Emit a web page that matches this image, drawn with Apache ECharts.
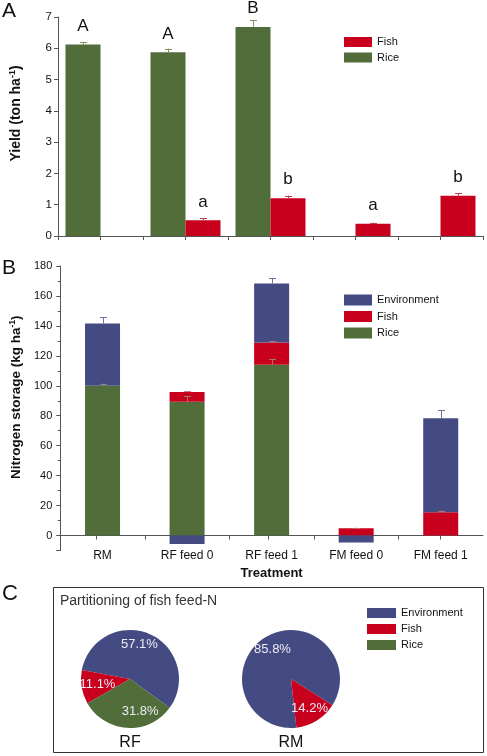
<!DOCTYPE html>
<html><head><meta charset="utf-8">
<script src="https://cdn.jsdelivr.net/npm/echarts@6/dist/echarts.min.js"></script>
<style>html,body{margin:0;padding:0;background:#fff}#c{width:487px;height:756px}</style>
</head><body><div id="c"></div>
<script>
const categories = ['RM', 'RF feed 0', 'RF feed 1', 'FM feed 0', 'FM feed 1'];
// Panel A: yield (ton ha-1)
const yieldRice = [6.12, 5.87, 6.68, null, null];
const yieldFish = [null, 0.50, 1.21, 0.39, 1.29];
const yieldRiceErr = [0.09, 0.12, 0.21, null, null];
const yieldFishErr = [null, 0.07, 0.08, 0.04, 0.07];
const riceLetters = ['A', 'A', 'B', '', ''];
const fishLetters = ['', 'a', 'b', 'a', 'b'];
// Panel B: nitrogen storage (kg ha-1)
const nRice = [100.0, 89.3, 114.0, null, null];
const nFish = [null, 6.5, 14.9, 4.9, 15.6];
const nEnv = [41.6, -5.6, 39.4, -4.7, 62.8];
const nRiceErr = [1.5, 4.0, 3.8, null, null];
const nFishErr = [null, 0.7, 0.9, 0.4, 1.1];
const nEnvErr = [4.3, null, 3.7, null, 5.4];
// Panel C: partitioning of fish feed-N (%)
const pieNames = ['Environment', 'Fish', 'Rice'];
const pieRF = [57.1, 11.1, 31.8];
const pieRM = [85.8, 14.2];

const COL = { Rice: '#516d3a', Fish: '#c8001e', Environment: '#444b83' };
const AXC = '#555';
const TXT = '#111';
const FONT = 'Liberation Sans, Arial, sans-serif';

function errSeries(xi, yi, bases, errs, offset, color) {
  const data = [];
  bases.forEach((b, i) => { if (b != null && errs[i] != null) data.push([i, b, b + errs[i]]); });
  return {
    type: 'custom', xAxisIndex: xi, yAxisIndex: yi, z: 6, silent: true, data: data,
    encode: { x: 0, y: 1 },
    renderItem: function (params, api) {
      const lo = api.coord([api.value(0), api.value(1)]);
      const hi = api.coord([api.value(0), api.value(2)]);
      const x = Math.round(lo[0] + offset) + 0.5;
      return { type: 'group', children: [
        { type: 'line', shape: { x1: x, y1: lo[1], x2: x, y2: hi[1] }, style: { stroke: color, lineWidth: 1 } },
        { type: 'line', shape: { x1: x - 3.5, y1: Math.round(hi[1]) + 0.5, x2: x + 3.5, y2: Math.round(hi[1]) + 0.5 }, style: { stroke: color, lineWidth: 1 } }
      ] };
    }
  };
}

const riceTop = nRice.map(v => v);
const fishTop = nFish.map((v, i) => v == null ? null : (nRice[i] || 0) + v);
const envTop = nEnv.map((v, i) => v == null || v < 0 ? null : (nRice[i] || 0) + (nFish[i] || 0) + v);

const axisLine = { show: true, onZero: false, lineStyle: { color: AXC, width: 1 } };
const tick = (len) => ({ show: true, length: len, lineStyle: { color: AXC, width: 1 } });
const ZERO_OFFSET = -15; // B: move the category axis up from the grid bottom (-10) to the zero line

const chart = echarts.init(document.getElementById('c'), null, { renderer: 'canvas' });
chart.setOption({
  animation: false,
  backgroundColor: '#fff',
  textStyle: { fontFamily: FONT },
  grid: [
    { left: 53, top: 17, width: 430, height: 219 },
    { left: 53, top: 266, width: 430, height: 284.5 },
    { left: 53, top: 266, width: 430, height: 284.5 }
  ],
  xAxis: [
    { type: 'category', gridIndex: 0, data: categories, position: 'bottom', axisLine: axisLine, axisTick: tick(4), axisLabel: { show: false }, splitLine: { show: false } },
    { type: 'category', gridIndex: 0, data: categories, position: 'bottom', axisLine: { show: false, onZero: false }, axisTick: Object.assign(tick(4), { alignWithLabel: true }), axisLabel: { show: false }, splitLine: { show: false } },
    { type: 'category', gridIndex: 1, data: categories, position: 'bottom', offset: ZERO_OFFSET, axisLine: axisLine, axisTick: tick(4),
      axisLabel: { show: true, fontSize: 12, color: TXT, margin: 14, fontFamily: FONT },
      name: 'Treatment', nameLocation: 'middle', nameGap: 31, nameTextStyle: { fontSize: 13, fontWeight: 'bold', color: TXT, fontFamily: FONT },
      splitLine: { show: false } },
    { type: 'category', gridIndex: 2, data: categories, position: 'bottom', offset: ZERO_OFFSET, axisLine: { show: false, onZero: false }, axisTick: Object.assign(tick(4), { alignWithLabel: true }), axisLabel: { show: false }, splitLine: { show: false } }
  ],
  yAxis: [
    { type: 'value', gridIndex: 0, min: 0, max: 7, interval: 1, axisLine: axisLine, axisTick: tick(4), splitLine: { show: false },
      axisLabel: { fontSize: 11.5, color: TXT, margin: 6, fontFamily: FONT },
      name: '{t|Yield (ton ha}{s|-1}{t|)}', nameLocation: 'middle', nameGap: 34,
      nameTextStyle: { padding: [0, 0, 0, 26], rich: { t: { fontSize: 14, fontWeight: 'bold', color: TXT, fontFamily: FONT }, s: { fontSize: 9, fontWeight: 'bold', color: TXT, fontFamily: FONT, padding: [0, 0, 7, 0] } } } },
    { type: 'value', gridIndex: 1, min: -10, max: 180, splitNumber: 9, minInterval: 20, maxInterval: 20, axisLine: axisLine, axisTick: tick(4),
      minorTick: { show: true, splitNumber: 2, length: 2.5, lineStyle: { color: AXC } }, splitLine: { show: false }, minorSplitLine: { show: false },
      axisLabel: { fontSize: 11, color: TXT, margin: 8, fontFamily: FONT, formatter: v => v < 0 ? '' : String(v) },
      name: '{t|Nitrogen storage (kg ha}{s|-1}{t|)}', nameLocation: 'middle', nameGap: 36,
      nameTextStyle: { padding: [0, 0, 0, 22], rich: { t: { fontSize: 13.5, fontWeight: 'bold', color: TXT, fontFamily: FONT }, s: { fontSize: 8.5, fontWeight: 'bold', color: TXT, fontFamily: FONT, padding: [0, 0, 7, 0] } } } },
    { type: 'value', gridIndex: 2, min: -10, max: 180, show: false, splitLine: { show: false } }
  ],
  legend: [
    { data: ['Fish', 'Rice'], left: 344, top: 36, orient: 'vertical', icon: 'rect', itemWidth: 28, itemHeight: 10, itemGap: 3.5, padding: 0, selectedMode: false,
      textStyle: { fontSize: 11, color: TXT, lineHeight: 12, fontFamily: FONT } },
    { data: ['Environment', 'Fish', 'Rice'], left: 344, top: 294, orient: 'vertical', icon: 'rect', itemWidth: 28, itemHeight: 11, itemGap: 4.5, padding: 0, selectedMode: false,
      textStyle: { fontSize: 11, color: TXT, lineHeight: 12, fontFamily: FONT } },
    { data: ['Environment', 'Fish', 'Rice'], left: 367, top: 607, orient: 'vertical', icon: 'rect', itemWidth: 29, itemHeight: 10, itemGap: 4, padding: 0, selectedMode: false,
      textStyle: { fontSize: 11, color: TXT, lineHeight: 12, fontFamily: FONT } }
  ],
  graphic: [
    { type: 'text', left: 2, top: 1, style: { text: 'A', font: '21px ' + FONT, fill: TXT } },
    { type: 'text', left: 2, top: 258, style: { text: 'B', font: '21px ' + FONT, fill: TXT } },
    { type: 'text', left: 2, top: 583, style: { text: 'C', font: '22px ' + FONT, fill: TXT } },
    { type: 'rect', shape: { x: 53.5, y: 587.5, width: 430, height: 165 }, style: { fill: 'none', stroke: '#333', lineWidth: 1 }, z: 0 },
    { type: 'text', left: 60, top: 594, style: { text: 'Partitioning of fish feed-N', font: '14px ' + FONT, fill: '#333' } },
    { type: 'text', x: 130, y: 743, style: { text: 'RF', font: '16px ' + FONT, fill: TXT, align: 'center', verticalAlign: 'middle', textAlign: 'center', textVerticalAlign: 'middle' } },
    { type: 'text', x: 291, y: 743, style: { text: 'RM', font: '16px ' + FONT, fill: TXT, align: 'center', verticalAlign: 'middle', textAlign: 'center', textVerticalAlign: 'middle' } }
  ],
  series: [
    { name: 'Rice', type: 'bar', xAxisIndex: 0, yAxisIndex: 0, barWidth: 35, barGap: '0%',
      data: yieldRice.map((v, i) => ({ value: v, label: { formatter: riceLetters[i] } })),
      itemStyle: { color: COL.Rice }, label: { show: true, position: 'top', distance: 10, fontSize: 17, color: TXT, fontFamily: FONT } },
    { name: 'Fish', type: 'bar', xAxisIndex: 0, yAxisIndex: 0, barWidth: 35, barGap: '0%',
      data: yieldFish.map((v, i) => ({ value: v, label: { formatter: fishLetters[i] } })),
      itemStyle: { color: COL.Fish }, label: { show: true, position: 'top', distance: 10, fontSize: 17, color: TXT, fontFamily: FONT } },
    errSeries(0, 0, yieldRice, yieldRiceErr, -17.5, '#8c8c62'),
    errSeries(0, 0, yieldFish, yieldFishErr, 17.5, '#b84050'),

    { name: 'Rice', type: 'bar', xAxisIndex: 2, yAxisIndex: 1, stack: 'n', barWidth: 35, data: nRice, itemStyle: { color: COL.Rice } },
    { name: 'Fish', type: 'bar', xAxisIndex: 2, yAxisIndex: 1, stack: 'n', barWidth: 35, data: nFish, itemStyle: { color: COL.Fish } },
    { name: 'Environment', type: 'bar', xAxisIndex: 2, yAxisIndex: 1, stack: 'n', barWidth: 35, data: nEnv, itemStyle: { color: COL.Environment } },
    errSeries(2, 1, riceTop, nRiceErr, 0, 'rgba(150,150,120,0.8)'),
    errSeries(2, 1, fishTop, nFishErr, 0, 'rgba(200,110,120,0.9)'),
    errSeries(2, 1, envTop, nEnvErr, 0, '#7070a0'),

    { type: 'pie', center: [130, 679], radius: 49, startAngle: -36, clockwise: false, silent: true,
      data: pieNames.map((n, i) => ({ name: n, value: pieRF[i], itemStyle: { color: COL[n] } })),
      itemStyle: { borderWidth: 0 }, label: { show: false }, labelLine: { show: false }, emphasis: { disabled: true } },
    { type: 'pie', center: [130, 679], radius: 62, startAngle: -36, clockwise: false, silent: true, z: 5,
      data: pieNames.map((n, i) => ({ name: n, value: pieRF[i] })),
      itemStyle: { color: 'rgba(0,0,0,0)', borderWidth: 0 }, labelLine: { show: false }, emphasis: { disabled: true },
      labelLayout: function (p) { return p.dataIndex === 2 ? { dx: 12, dy: -2 } : (p.dataIndex === 1 ? { dx: 1 } : { dx: -4, dy: -3 }); },
      label: { show: true, position: 'inside', formatter: p => p.value.toFixed(1) + '%', fontSize: 13, color: '#ececf4', textBorderWidth: 0, fontFamily: FONT } },
    { type: 'pie', center: [291, 679], radius: 49, startAngle: -32.5, clockwise: false, silent: true,
      data: pieRM.map((v, i) => ({ name: pieNames[i], value: v, itemStyle: { color: COL[pieNames[i]] } })),
      itemStyle: { borderWidth: 0 }, label: { show: false }, labelLine: { show: false }, emphasis: { disabled: true } },
    { type: 'pie', center: [291, 679], radius: 64, startAngle: -32.5, clockwise: false, silent: true, z: 5,
      data: pieRM.map((v, i) => ({ name: pieNames[i], value: v })),
      itemStyle: { color: 'rgba(0,0,0,0)', borderWidth: 0 }, labelLine: { show: false }, emphasis: { disabled: true },
      label: { show: true, position: 'inside', formatter: p => p.value.toFixed(1) + '%', fontSize: 13, color: '#ececf4', textBorderWidth: 0, fontFamily: FONT } }
  ]
});
</script>
</body></html>
